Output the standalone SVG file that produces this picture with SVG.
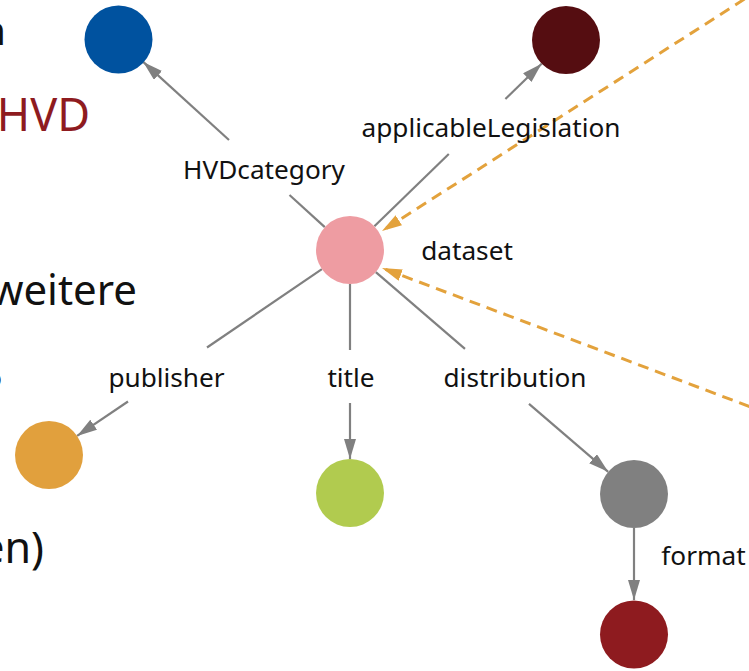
<svg xmlns="http://www.w3.org/2000/svg" width="749" height="671" viewBox="0 0 749 671">
<style>
.lbl{font-family:"Noto Sans","Open Sans",sans-serif;font-size:26.2px;fill:#111;text-anchor:middle}
.big{font-family:"Noto Sans","Open Sans",sans-serif;fill:#111;text-anchor:end}
.edge{stroke:#808080;stroke-width:2.2;fill:none}
.dash{stroke:#e3a23c;stroke-width:3;fill:none;stroke-dasharray:11 7}
</style>
<defs>
<marker id="ag" markerUnits="userSpaceOnUse" markerWidth="20" markerHeight="12" refX="20" refY="6" orient="auto"><path d="M0,0 L20,6 L0,12 Z" fill="#808080"/></marker>
<marker id="ao" markerUnits="userSpaceOnUse" markerWidth="20" markerHeight="12" refX="20" refY="6" orient="auto"><path d="M0,0 L20,6 L0,12 Z" fill="#e3a23c"/></marker>
</defs>
<rect width="749" height="671" fill="#fff"/>
<g id="background-text">
<text class="big" x="6" y="45" font-size="40">n</text>
<text class="big" x="90" y="131" font-size="45" style="fill:#8e1b1f">HVD</text>
<text class="big" x="137" y="305" font-size="42">weitere</text>
<text class="big" x="2" y="387" font-size="25">o</text>
<text class="big" x="44" y="563" font-size="43">en)</text>
</g>
<g id="connectors">
<line class="edge" x1="324.8" y1="227.1" x2="289.5" y2="195"/>
<line class="edge" x1="229" y1="140" x2="143.2" y2="61.9" marker-end="url(#ag)"/>
<line class="edge" x1="374.4" y1="226.3" x2="448.8" y2="154"/>
<line class="edge" x1="505.4" y1="99" x2="541.6" y2="63.7" marker-end="url(#ag)"/>
<line class="edge" x1="321.9" y1="269.1" x2="207" y2="347.5"/>
<line class="edge" x1="128" y1="401.5" x2="77.1" y2="435.9" marker-end="url(#ag)"/>
<line class="edge" x1="350" y1="284" x2="350" y2="350"/>
<line class="edge" x1="350" y1="403" x2="350" y2="459" marker-end="url(#ag)"/>
<line class="edge" x1="375.8" y1="272.2" x2="465" y2="348.8"/>
<line class="edge" x1="529" y1="403.8" x2="608.2" y2="471.8" marker-end="url(#ag)"/>
<line class="edge" x1="634" y1="528" x2="634" y2="600" marker-end="url(#ag)"/>
<line class="dash" x1="790" y1="-30" x2="382" y2="231" marker-end="url(#ao)"/>
<line class="dash" x1="800" y1="425.6" x2="382" y2="268" marker-end="url(#ao)"/>
<text class="lbl" x="264" y="179">HVDcategory</text>
<text class="lbl" x="491" y="137">applicableLegislation</text>
<text class="lbl" x="166.5" y="387">publisher</text>
<text class="lbl" x="351" y="387">title</text>
<text class="lbl" x="515" y="387">distribution</text>
<text class="lbl" x="703.5" y="565">format</text>
</g>
<g id="n-hvd"><circle cx="118.5" cy="39.5" r="34" fill="#00529f"/></g>
<g id="n-legislation"><circle cx="566" cy="40" r="34" fill="#550d11"/></g>
<g id="n-dataset"><circle cx="350" cy="250" r="34" fill="#ee9ca2"/><text class="lbl" x="467" y="260">dataset</text></g>
<g id="n-publisher"><circle cx="49" cy="455" r="34" fill="#e1a03d"/></g>
<g id="n-title"><circle cx="350" cy="493" r="34" fill="#b1cb4f"/></g>
<g id="n-distribution"><circle cx="634" cy="494" r="34" fill="#808080"/></g>
<g id="n-format"><circle cx="634" cy="634.5" r="34" fill="#8e1b1f"/></g>
</svg>
